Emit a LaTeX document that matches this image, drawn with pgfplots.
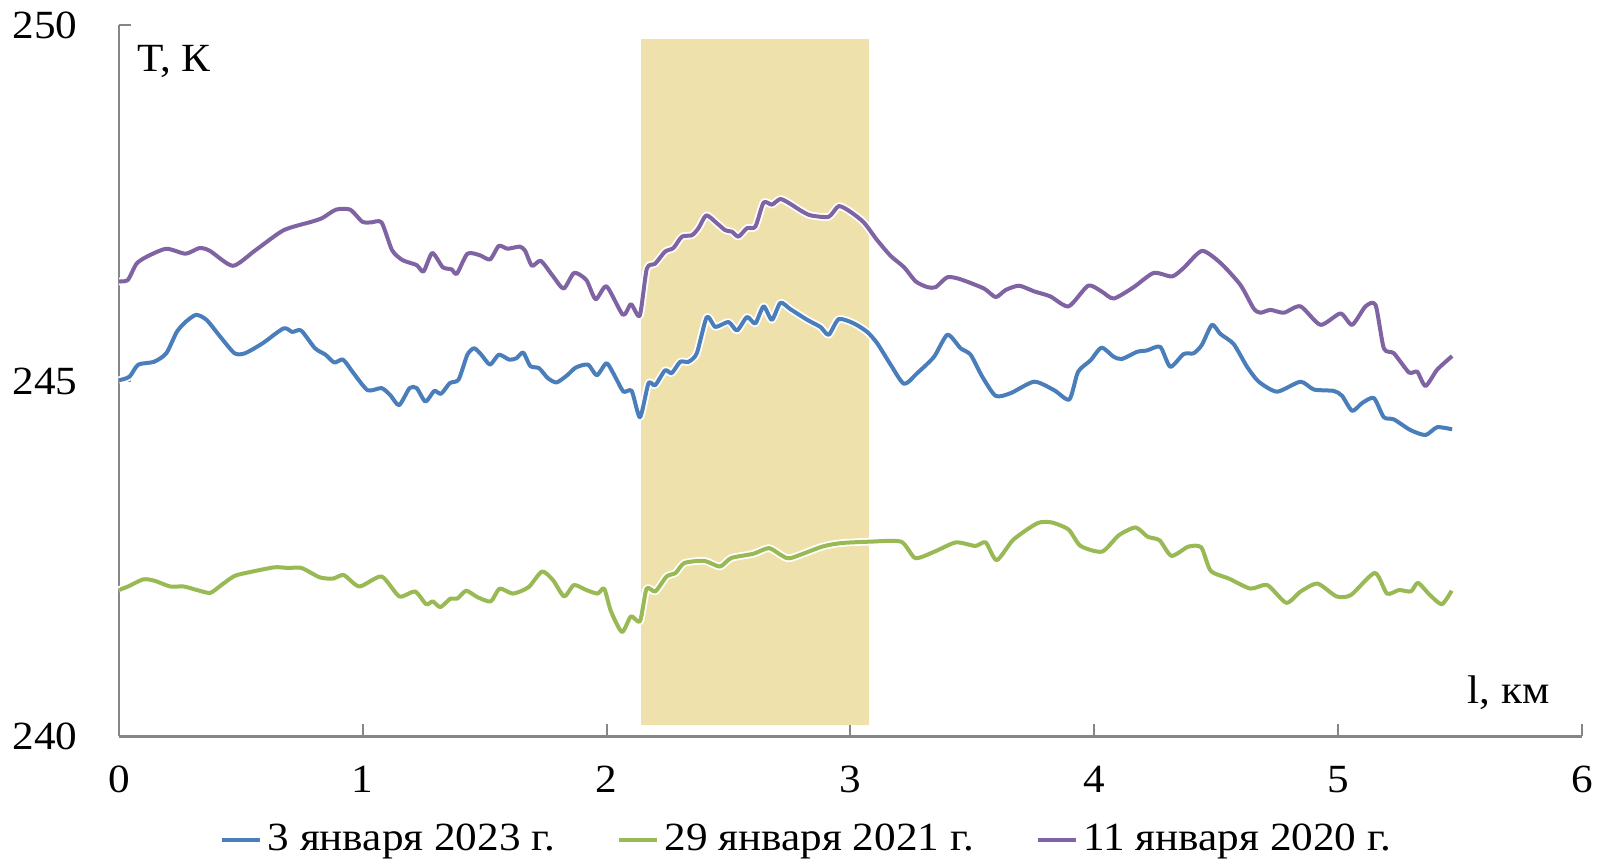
\documentclass[border=0pt]{standalone}
\usepackage{fontspec}
\setmainfont{Liberation Serif}[FakeStretch=1.08]
\usepackage{pgfplots}
\pgfplotsset{compat=1.18}
\definecolor{cblue}{HTML}{4A7EBB}
\definecolor{cgreen}{HTML}{98B954}
\definecolor{cpurple}{HTML}{7F63A2}
\definecolor{hl}{HTML}{EEE1AC}
\definecolor{axisgray}{HTML}{868686}
\begin{document}
\fontsize{20}{24}\selectfont
\begin{tikzpicture}
\begin{axis}[
  scale only axis, width=731.4pt, height=355.5pt,
  xmin=0, xmax=6, ymin=240, ymax=250,
  axis x line=bottom, axis y line=left,
  axis line style={draw=axisgray, line width=1.4pt, -},
  xtick={0,1,2,3,4,5,6}, ytick={240,245,250},
  tick align=inside, major tick length=6pt,
  tick style={draw=axisgray, line width=1pt},
  /pgf/number format/assume math mode=true,
  yticklabel style={xshift=-14pt},
  xticklabel style={yshift=-8pt},
  clip=false,
  legend columns=3,
  legend style={draw=none, fill=none, at={(0.470,-0.146)}, anchor=center,
    /tikz/every even column/.append style={column sep=28pt},
    nodes={inner sep=2pt}},
  legend image code/.code={\draw[#1, line width=1.8pt] (0pt,0pt) -- (19pt,0pt);},
  lineplot/.style={line width=2pt, line join=round, smooth, tension=0.4,
     preaction={draw=white, line width=3.8pt}, no markers},
]
\coordinate (O) at (rel axis cs:0,0);
\addplot[fill=hl, draw=none, forget plot, sharp plot, no markers] coordinates {(2.14,240.155) (2.14,249.81) (3.076,249.81) (3.076,240.155)};

\addplot[cblue, lineplot] coordinates {
(0.000,245.01) (0.043,245.06) (0.079,245.23) (0.144,245.27) (0.194,245.39) (0.237,245.69)
(0.273,245.83) (0.316,245.93) (0.359,245.86) (0.416,245.62) (0.474,245.39) (0.517,245.39)
(0.589,245.53) (0.675,245.74) (0.711,245.69) (0.747,245.71) (0.804,245.46) (0.847,245.37)
(0.883,245.26) (0.919,245.30) (0.962,245.11) (1.020,244.87) (1.077,244.90) (1.113,244.80)
(1.149,244.66) (1.192,244.90) (1.221,244.90) (1.257,244.71) (1.293,244.86) (1.321,244.82)
(1.357,244.97) (1.393,245.02) (1.429,245.37) (1.457,245.46) (1.486,245.37) (1.522,245.23)
(1.558,245.37) (1.601,245.30) (1.630,245.32) (1.658,245.40) (1.687,245.21) (1.723,245.18)
(1.759,245.04) (1.795,244.98) (1.838,245.08) (1.874,245.19) (1.924,245.23) (1.960,245.08)
(2.000,245.25) (2.035,245.06) (2.069,244.85) (2.103,244.86) (2.137,244.49) (2.172,244.97)
(2.199,244.94) (2.240,245.15) (2.267,245.11) (2.302,245.27) (2.336,245.27) (2.370,245.39)
(2.411,245.90) (2.446,245.76) (2.500,245.83) (2.535,245.71) (2.576,245.90) (2.610,245.81)
(2.644,246.05) (2.678,245.86) (2.713,246.10) (2.754,246.01) (2.823,245.86) (2.877,245.76)
(2.911,245.65) (2.952,245.87) (3.014,245.81) (3.069,245.69) (3.110,245.53) (3.165,245.23)
(3.220,244.96) (3.274,245.11) (3.343,245.34) (3.398,245.65) (3.452,245.46) (3.493,245.37)
(3.541,245.06) (3.596,244.79) (3.658,244.83) (3.754,244.99) (3.836,244.87) (3.898,244.74)
(3.934,245.13) (3.985,245.29) (4.030,245.47) (4.080,245.34) (4.114,245.31) (4.176,245.41)
(4.217,245.43) (4.271,245.48) (4.312,245.20) (4.367,245.38) (4.408,245.39) (4.442,245.51)
(4.483,245.79) (4.518,245.66) (4.572,245.52) (4.627,245.20) (4.675,244.99) (4.750,244.85)
(4.846,244.99) (4.901,244.88) (4.983,244.86) (5.017,244.79) (5.058,244.58) (5.099,244.69)
(5.147,244.76) (5.188,244.49) (5.229,244.46) (5.297,244.31) (5.359,244.24) (5.407,244.35)
(5.468,244.32)
};
\addlegendentry{3 января 2023 г.}

\addplot[cgreen, lineplot] coordinates {
(0.000,242.06) (0.037,242.11) (0.100,242.21) (0.146,242.19) (0.210,242.11) (0.265,242.11)
(0.320,242.06) (0.374,242.02) (0.420,242.13) (0.475,242.26) (0.548,242.32) (0.639,242.38)
(0.694,242.37) (0.749,242.37) (0.822,242.24) (0.877,242.22) (0.922,242.27) (0.986,242.11)
(1.077,242.25) (1.150,241.97) (1.214,242.04) (1.260,241.86) (1.287,241.90) (1.318,241.82)
(1.360,241.94) (1.388,241.94) (1.424,242.05) (1.470,241.96) (1.525,241.90) (1.561,242.08)
(1.616,242.01) (1.680,242.10) (1.735,242.32) (1.780,242.20) (1.826,241.97) (1.866,242.13)
(1.917,242.06) (1.963,242.01) (1.990,242.08) (2.018,241.76) (2.063,241.47) (2.100,241.69)
(2.137,241.62) (2.164,242.08) (2.200,242.04) (2.246,242.25) (2.283,242.30) (2.319,242.44)
(2.401,242.47) (2.465,242.39) (2.511,242.51) (2.602,242.57) (2.666,242.65) (2.721,242.54)
(2.756,242.51) (2.884,242.67) (2.962,242.72) (3.080,242.74) (3.208,242.74) (3.266,242.51)
(3.345,242.60) (3.433,242.73) (3.512,242.68) (3.555,242.73) (3.600,242.48) (3.669,242.77)
(3.767,243.00) (3.826,243.01) (3.895,242.91) (3.944,242.68) (4.032,242.60) (4.101,242.83)
(4.170,242.94) (4.219,242.81) (4.268,242.76) (4.317,242.54) (4.386,242.67) (4.439,242.66)
(4.478,242.33) (4.553,242.22) (4.641,242.08) (4.710,242.13) (4.788,241.88) (4.847,242.04)
(4.916,242.15) (4.994,241.97) (5.053,241.99) (5.151,242.30) (5.201,242.01) (5.250,242.06)
(5.299,242.04) (5.328,242.16) (5.377,241.99) (5.426,241.86) (5.466,242.05)
};
\addlegendentry{29 января 2021 г.}

\addplot[cpurple, lineplot] coordinates {
(0.000,246.40) (0.036,246.42) (0.072,246.65) (0.115,246.75) (0.194,246.86) (0.273,246.79)
(0.330,246.87) (0.373,246.83) (0.467,246.62) (0.560,246.84) (0.675,247.12) (0.790,247.24)
(0.833,247.29) (0.890,247.41) (0.948,247.41) (0.998,247.24) (1.034,247.23) (1.077,247.23)
(1.120,246.84) (1.163,246.70) (1.221,246.63) (1.249,246.54) (1.285,246.80) (1.328,246.60)
(1.364,246.57) (1.386,246.51) (1.429,246.79) (1.479,246.77) (1.522,246.71) (1.558,246.90)
(1.594,246.86) (1.644,246.89) (1.666,246.83) (1.694,246.62) (1.730,246.69) (1.781,246.47)
(1.824,246.30) (1.867,246.52) (1.917,246.42) (1.955,246.15) (2.000,246.33) (2.067,245.93)
(2.100,246.08) (2.136,245.92) (2.165,246.58) (2.199,246.65) (2.240,246.82) (2.274,246.87)
(2.309,247.03) (2.350,247.05) (2.377,247.15) (2.409,247.33) (2.452,247.22) (2.487,247.12)
(2.514,247.10) (2.541,247.03) (2.576,247.15) (2.610,247.17) (2.644,247.51) (2.678,247.48)
(2.713,247.56) (2.754,247.49) (2.795,247.40) (2.836,247.33) (2.911,247.31) (2.952,247.46)
(3.000,247.38) (3.055,247.23) (3.110,246.98) (3.165,246.76) (3.220,246.60) (3.268,246.40)
(3.316,246.32) (3.350,246.32) (3.398,246.46) (3.452,246.43) (3.548,246.30) (3.596,246.18)
(3.637,246.28) (3.692,246.34) (3.754,246.26) (3.820,246.19) (3.895,246.05) (3.975,246.34)
(4.030,246.26) (4.080,246.16) (4.162,246.32) (4.244,246.52) (4.319,246.47) (4.367,246.59)
(4.442,246.83) (4.518,246.66) (4.600,246.35) (4.654,246.02) (4.682,245.96) (4.723,246.00)
(4.778,245.96) (4.846,246.05) (4.928,245.79) (5.010,245.95) (5.058,245.79) (5.113,246.05)
(5.154,246.07) (5.188,245.46) (5.229,245.39) (5.291,245.12) (5.325,245.13) (5.359,244.93)
(5.407,245.16) (5.468,245.35)
};
\addlegendentry{11 января 2020 г.}

\node[anchor=west, inner sep=0pt] at (axis cs:0.076,249.5) {Т, К};
\node[anchor=west, inner sep=0pt] at (axis cs:5.53,240.61) {l, км};
\end{axis}
\pgfresetboundingbox
\path (O) ++(-59.5pt,-61.75pt) rectangle ++(798.5pt,430pt);
\end{tikzpicture}
\end{document}
